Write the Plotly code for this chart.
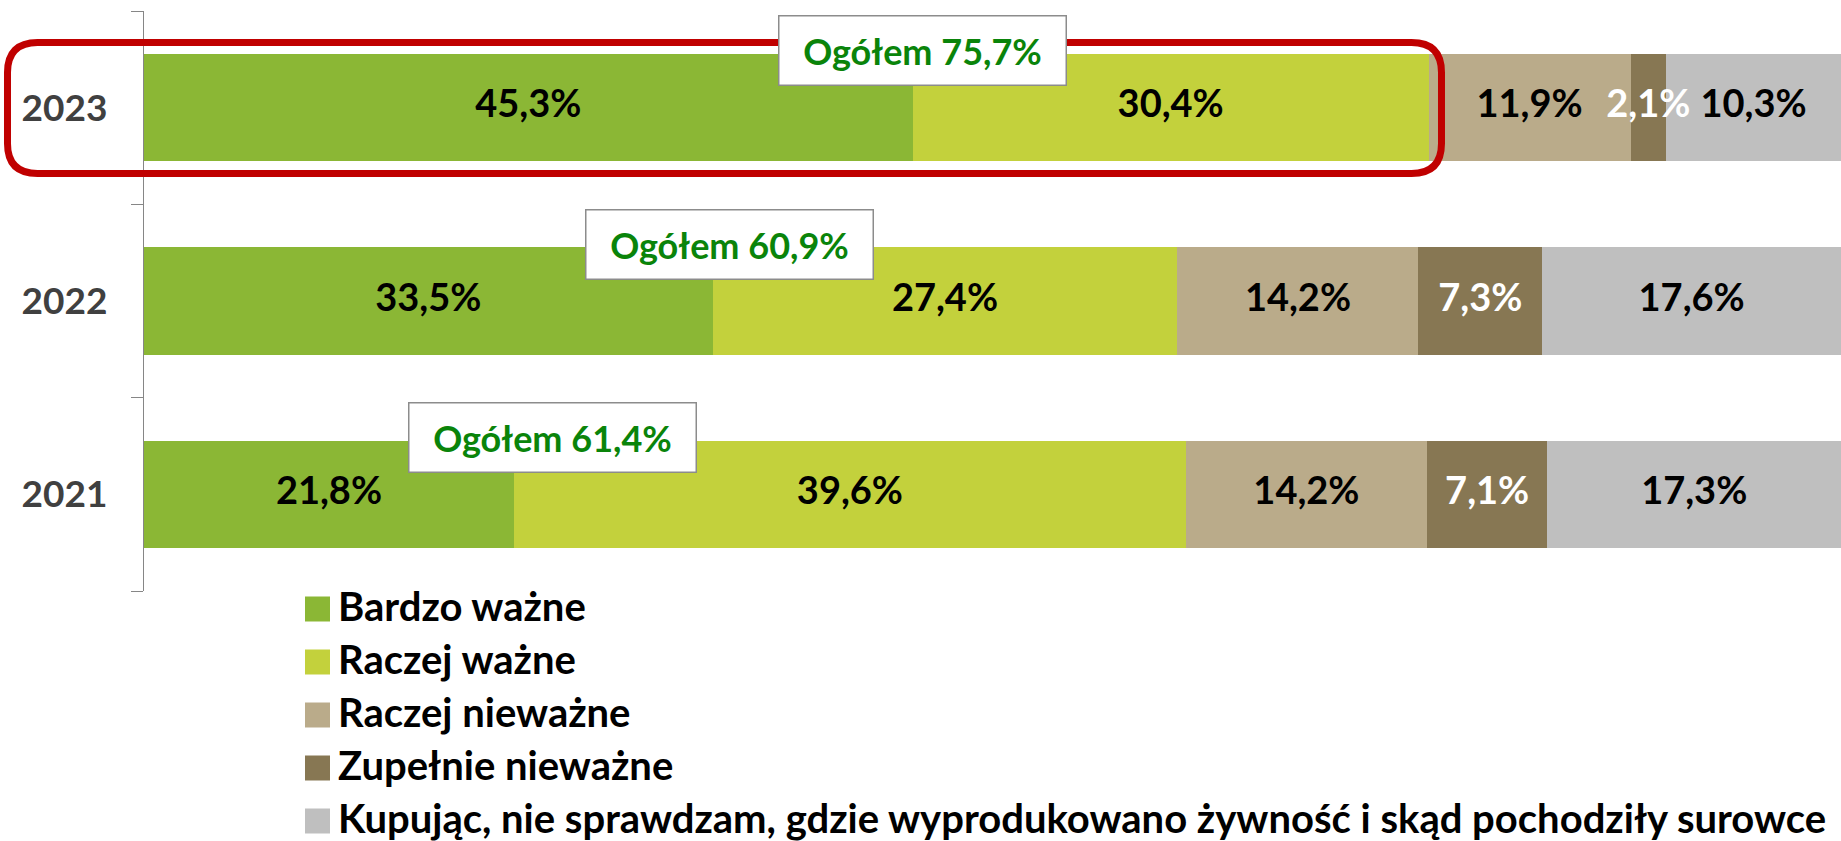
import plotly.graph_objects as go

# ---- data ----
years = ["2021", "2022", "2023"]
series_names = ["Bardzo ważne", "Raczej ważne", "Raczej nieważne", "Zupełnie nieważne",
                "Kupując, nie sprawdzam, gdzie wyprodukowano żywność i skąd pochodziły surowce"]
bardzo_wazne = [21.8, 33.5, 45.3]
raczej_wazne = [39.6, 27.4, 30.4]
raczej_niewazne = [14.2, 14.2, 11.9]
zupelnie_niewazne = [7.1, 7.3, 2.1]
nie_sprawdzam = [17.3, 17.6, 10.3]
ogolem = [61.4, 60.9, 75.7]

# ---- style ----
colors = ["#8BB735", "#C3D13C", "#BAAB8A", "#877753", "#BFBFBF"]
label_colors = ["#000000", "#000000", "#000000", "#FFFFFF", "#000000"]
FONT = "Lato"

values = [bardzo_wazne, raczej_wazne, raczej_niewazne, zupelnie_niewazne, nie_sprawdzam]

W, H = 1841, 841
L, R, T, B = 144, 1841, 11, 591


def px(x):
    return (x - L) / (R - L)


def py(y):
    return (B - y) / (B - T)


def fmt(v):
    return f"{v:.1f}".replace(".", ",") + "%"


fig = go.Figure()
for name, vals, col in zip(series_names, values, colors):
    fig.add_trace(go.Bar(
        y=years, x=vals, name=name, orientation="h",
        marker=dict(color=col, line=dict(width=0)),
        showlegend=False, hoverinfo="skip",
    ))

# segment labels drawn on top of all bars (so narrow-segment labels can overflow)
base = [0.0] * len(years)
for name, vals, lc in zip(series_names, values, label_colors):
    mids = [b + v / 2 for b, v in zip(base, vals)]
    fig.add_trace(go.Scatter(
        x=mids, y=years, mode="text", text=[fmt(v) for v in vals],
        textposition="middle center",
        textfont=dict(family=FONT, size=38, color=lc, weight="bold"),
        cliponaxis=False, showlegend=False, hoverinfo="skip",
    ))
    base = [b + v for b, v in zip(base, vals)]

annotations = []
# "Ogółem" boxes (y given as category index on the category axis)
xshifts = [39, 17, 10]
for idx, (tot, bw, xs) in enumerate(zip(ogolem, bardzo_wazne, xshifts)):
    annotations.append(dict(
        x=bw, y=idx, xref="x", yref="y", text="Ogółem " + fmt(tot),
        showarrow=False, xanchor="center", yanchor="middle",
        xshift=xs, yshift=57,
        font=dict(family=FONT, size=36, color="#0A840A", weight="bold"),
        bgcolor="white", bordercolor="#8C8C8C", borderwidth=1.5,
        width=284, height=66, borderpad=1,
    ))

shapes = []
# manual legend
row0, step, sq = 609, 53, 25
for i, (name, col) in enumerate(zip(series_names, colors)):
    cy = row0 + i * step
    shapes.append(dict(type="rect", xref="paper", yref="paper",
                       x0=px(305), x1=px(305 + sq), y0=py(cy + sq / 2), y1=py(cy - sq / 2),
                       fillcolor=col, line=dict(width=0), layer="above"))
    annotations.append(dict(
        x=px(336), y=py(cy - 3), xref="paper", yref="paper", text=name,
        showarrow=False, xanchor="left", yanchor="middle",
        font=dict(family=FONT, size=40, color="#000000", weight="bold"),
    ))

# red rounded highlight around 2023
x0, x1, y0, y1, r = 7.5, 1441.5, 42.5, 173.5, 30
pts = [
    ("M", (x0 + r, y0)), ("L", (x1 - r, y0)), ("Q", (x1, y0), (x1, y0 + r)),
    ("L", (x1, y1 - r)), ("Q", (x1, y1), (x1 - r, y1)), ("L", (x0 + r, y1)),
    ("Q", (x0, y1), (x0, y1 - r)), ("L", (x0, y0 + r)), ("Q", (x0, y0), (x0 + r, y0)),
]
path = ""
for seg in pts:
    cmd = seg[0]
    coords = " ".join(f"{px(a):.5f},{py(b):.5f}" for a, b in seg[1:])
    path += f"{cmd} {coords} "
path += "Z"
shapes.append(dict(type="path", xref="paper", yref="paper", path=path,
                   line=dict(color="#C00000", width=7), fillcolor="rgba(0,0,0,0)", layer="above"))

fig.update_layout(
    width=W, height=H, autosize=False,
    margin=dict(l=L, r=W - R, t=T, b=H - B, pad=0),
    paper_bgcolor="white", plot_bgcolor="white",
    barmode="stack", bargap=0.446,
    showlegend=False,
    xaxis=dict(range=[0, 100], visible=False, fixedrange=True),
    yaxis=dict(
        type="category", categoryorder="array", categoryarray=years,
        range=[-0.5, 2.5], autorange=False, automargin=False,
        showline=True, linecolor="#868686", linewidth=1.3,
        ticks="outside", tickson="boundaries", ticklen=12, tickcolor="#868686", tickwidth=1.3,
        ticklabelstandoff=28,
        tickfont=dict(family=FONT, size=37, color="#404040", weight="bold"),
        showgrid=False, zeroline=False, fixedrange=True,
    ),
    annotations=annotations,
    shapes=shapes,
)

fig.write_html(
    "out.html",
    config={"displayModeBar": False},
    post_script="document.body.style.margin='0px';document.body.style.overflow='hidden';",
)
